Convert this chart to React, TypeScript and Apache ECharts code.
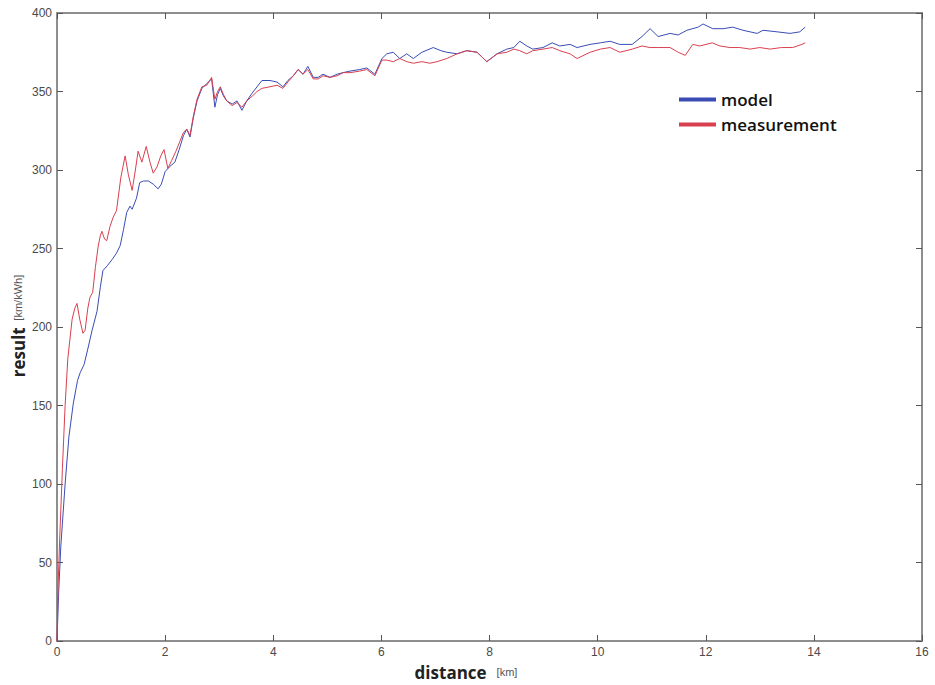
import React, { useEffect, useRef } from "react";
import * as echarts from "echarts";

const xTicks = [0, 2, 4, 6, 8, 10, 12, 14, 16];
const yTicks = [0, 50, 100, 150, 200, 250, 300, 350, 400];

const modelDistance = [
  0, 0.03, 0.07, 0.15, 0.22, 0.3, 0.38, 0.43, 0.5, 0.57, 0.65, 0.74, 0.8, 0.85, 0.93, 1.02, 1.1, 1.17, 1.23, 1.29,
  1.35, 1.39, 1.47, 1.53, 1.6, 1.69, 1.78, 1.87, 1.93, 2.0, 2.08, 2.18, 2.26, 2.34, 2.4, 2.46, 2.52, 2.59, 2.68, 2.77,
  2.86, 2.92, 2.97, 3.02, 3.08, 3.14, 3.24, 3.33, 3.42, 3.51, 3.61, 3.7, 3.79, 3.94, 4.07, 4.18, 4.27, 4.37, 4.46, 4.55,
  4.64, 4.74, 4.83, 4.92, 5.05, 5.18, 5.29, 5.42, 5.6, 5.73, 5.88, 6.01, 6.1, 6.22, 6.34, 6.47, 6.59, 6.75, 6.96, 7.1,
  7.21, 7.4, 7.58, 7.77, 7.95, 8.14, 8.32, 8.45, 8.56, 8.69, 8.8, 8.99, 9.16, 9.3, 9.49, 9.62, 9.86, 10.05, 10.23, 10.41,
  10.64, 10.82, 10.97, 11.12, 11.34, 11.49, 11.65, 11.86, 11.95, 12.13, 12.32, 12.5, 12.69, 12.95, 13.06, 13.32, 13.56, 13.74, 13.84,
];
const modelValues = [
  0, 30, 60, 100, 130, 151, 166, 171, 176, 186, 198, 210, 225, 236, 239, 243, 247, 252, 262, 273,
  277, 275, 282, 292, 293, 293, 291, 288, 291, 299, 302, 305, 313, 322, 326, 321, 333, 344, 352, 355,
  358, 340, 348, 352, 347, 344, 342, 344, 338, 344, 349, 353, 357, 357, 356, 353, 357, 360, 364, 361,
  366, 359, 359, 361, 359, 361, 362, 363, 364, 365, 361, 371, 374, 375, 371, 374, 371, 375, 378, 376,
  375, 374, 376, 375, 369, 374, 377, 378, 382, 379, 377, 378, 381, 379, 380, 378, 380, 381, 382, 380,
  380, 385, 390, 385, 387, 386, 389, 391, 393, 390, 390, 391, 389, 387, 389, 388, 387, 388, 391,
];

const measurementDistance = [
  0, 0.02, 0.05, 0.1, 0.15, 0.2, 0.28, 0.33, 0.37, 0.42, 0.48, 0.52, 0.57, 0.61, 0.66, 0.71, 0.76, 0.8, 0.83, 0.88,
  0.92, 0.98, 1.04, 1.1, 1.18, 1.26, 1.32, 1.39, 1.45, 1.5, 1.57, 1.65, 1.72, 1.78, 1.85, 1.92, 1.98, 2.05, 2.12, 2.2,
  2.27, 2.34, 2.4, 2.46, 2.52, 2.59, 2.68, 2.77, 2.86, 2.92, 2.97, 3.02, 3.08, 3.14, 3.24, 3.33, 3.42, 3.51, 3.61, 3.7,
  3.79, 3.94, 4.07, 4.18, 4.27, 4.37, 4.46, 4.55, 4.64, 4.74, 4.83, 4.92, 5.05, 5.18, 5.29, 5.42, 5.6, 5.73, 5.88, 6.01,
  6.1, 6.22, 6.34, 6.47, 6.59, 6.75, 6.9, 7.03, 7.21, 7.4, 7.58, 7.77, 7.95, 8.14, 8.32, 8.45, 8.56, 8.69, 8.8, 8.99,
  9.16, 9.3, 9.49, 9.62, 9.86, 10.05, 10.23, 10.41, 10.64, 10.82, 10.97, 11.12, 11.34, 11.49, 11.62, 11.76, 11.89, 12.12, 12.26, 12.45,
  12.63, 12.82, 13.0, 13.19, 13.4, 13.61, 13.78, 13.84,
];
const measurementValues = [
  0, 35, 65, 110, 150, 180, 205, 212, 215, 205, 196, 198, 212, 219, 222, 238, 251, 258, 261, 256,
  255, 264, 270, 274, 295, 309, 297, 287, 300, 312, 305, 315, 305, 298, 302, 309, 313, 301, 306, 312,
  318, 324, 326, 322, 334, 345, 353, 354, 359, 345, 350, 353, 348, 344, 341, 343, 340, 344, 347, 350,
  352, 353, 354, 352, 356, 360, 364, 361, 364, 358, 358, 360, 359, 360, 362, 362, 363, 364, 360, 370,
  370, 369, 371, 369, 368, 369, 368, 369, 371, 374, 376, 375, 369, 374, 375, 377, 376, 374, 376, 377,
  378, 376, 374, 371, 375, 377, 378, 375, 377, 379, 378, 378, 378, 375, 373, 380, 379, 381, 379, 378,
  378, 377, 378, 377, 378, 378, 380, 381,
];

const seriesNames = ["model", "measurement"];
const seriesColors = ["#3a4cb4", "#d8404f"];

export default function App() {
  const ref = useRef<HTMLDivElement>(null);

  useEffect(() => {
    if (!ref.current) return;
    const chart = echarts.init(ref.current, null, { renderer: "svg" });
    const axisLine = { show: true, onZero: false, lineStyle: { color: "#8e8e8e", width: 2 } };
    const axisTick = { show: true, inside: true, length: 6, lineStyle: { color: "#555", width: 1 } };
    const tickLabel = {
      color: "#4a4a4a",
      fontSize: 12,
      fontFamily: "'Liberation Sans', Arial, sans-serif",
    };
    const boldFont = "'Open Sans', 'Noto Sans', sans-serif";
    const smallFont = "'Liberation Sans', Arial, sans-serif";
    chart.setOption({
      animation: false,
      backgroundColor: "#ffffff",
      grid: { left: 57, right: 13, top: 13, bottom: 44, containLabel: false },
      legend: {
        orient: "vertical",
        left: 674,
        top: 86,
        itemWidth: 37,
        itemHeight: 4,
        itemGap: 8,
        icon: "rect",
        data: seriesNames,
        textStyle: {
          fontSize: 17,
          fontWeight: 600,
          color: "#111",
          fontFamily: boldFont,
        },
      },
      xAxis: [
        {
          type: "value",
          min: 0,
          max: 16,
          interval: 2,
          position: "bottom",
          axisLine,
          axisTick,
          axisLabel: { ...tickLabel, margin: 5 },
          splitLine: { show: false },
        },
        {
          type: "value",
          min: 0,
          max: 16,
          interval: 2,
          position: "top",
          axisLine,
          axisTick,
          axisLabel: { show: false },
          splitLine: { show: false },
        },
      ],
      yAxis: [
        {
          type: "value",
          min: 0,
          max: 400,
          interval: 50,
          position: "left",
          axisLine,
          axisTick,
          axisLabel: { ...tickLabel, margin: 5 },
          splitLine: { show: false },
        },
        {
          type: "value",
          min: 0,
          max: 400,
          interval: 50,
          position: "right",
          axisLine,
          axisTick,
          axisLabel: { show: false },
          splitLine: { show: false },
        },
      ],
      graphic: [
        {
          type: "text",
          x: 466,
          y: 672,
          style: {
            text: "{b|distance}   {s|[km]}",
            align: "center",
            verticalAlign: "middle",
            rich: {
              b: { fontSize: 17, fontWeight: "bold", fill: "#222", fontFamily: boldFont },
              s: { fontSize: 11, fill: "#555", fontFamily: smallFont },
            },
          },
        },
        {
          type: "text",
          x: 18,
          y: 326,
          rotation: Math.PI / 2,
          style: {
            text: "{b|result}  {s|[km/kWh]}",
            align: "center",
            verticalAlign: "middle",
            rich: {
              b: { fontSize: 17, fontWeight: "bold", fill: "#222", fontFamily: boldFont },
              s: { fontSize: 11, fill: "#555", fontFamily: smallFont },
            },
          },
        },
      ],
      series: [
        {
          name: seriesNames[0],
          type: "line",
          data: modelDistance.map((d, i) => [d, modelValues[i]]),
          showSymbol: false,
          symbol: "none",
          color: seriesColors[0],
          lineStyle: { width: 1, color: seriesColors[0] },
          z: 2,
        },
        {
          name: seriesNames[1],
          type: "line",
          data: measurementDistance.map((d, i) => [d, measurementValues[i]]),
          showSymbol: false,
          symbol: "none",
          color: seriesColors[1],
          lineStyle: { width: 1, color: seriesColors[1] },
          z: 3,
        },
      ],
    });
    return () => chart.dispose();
  }, []);

  return (
    <div
      ref={ref}
      style={{ position: "fixed", left: 0, top: 0, width: 935, height: 685, background: "#fff" }}
    />
  );
}
